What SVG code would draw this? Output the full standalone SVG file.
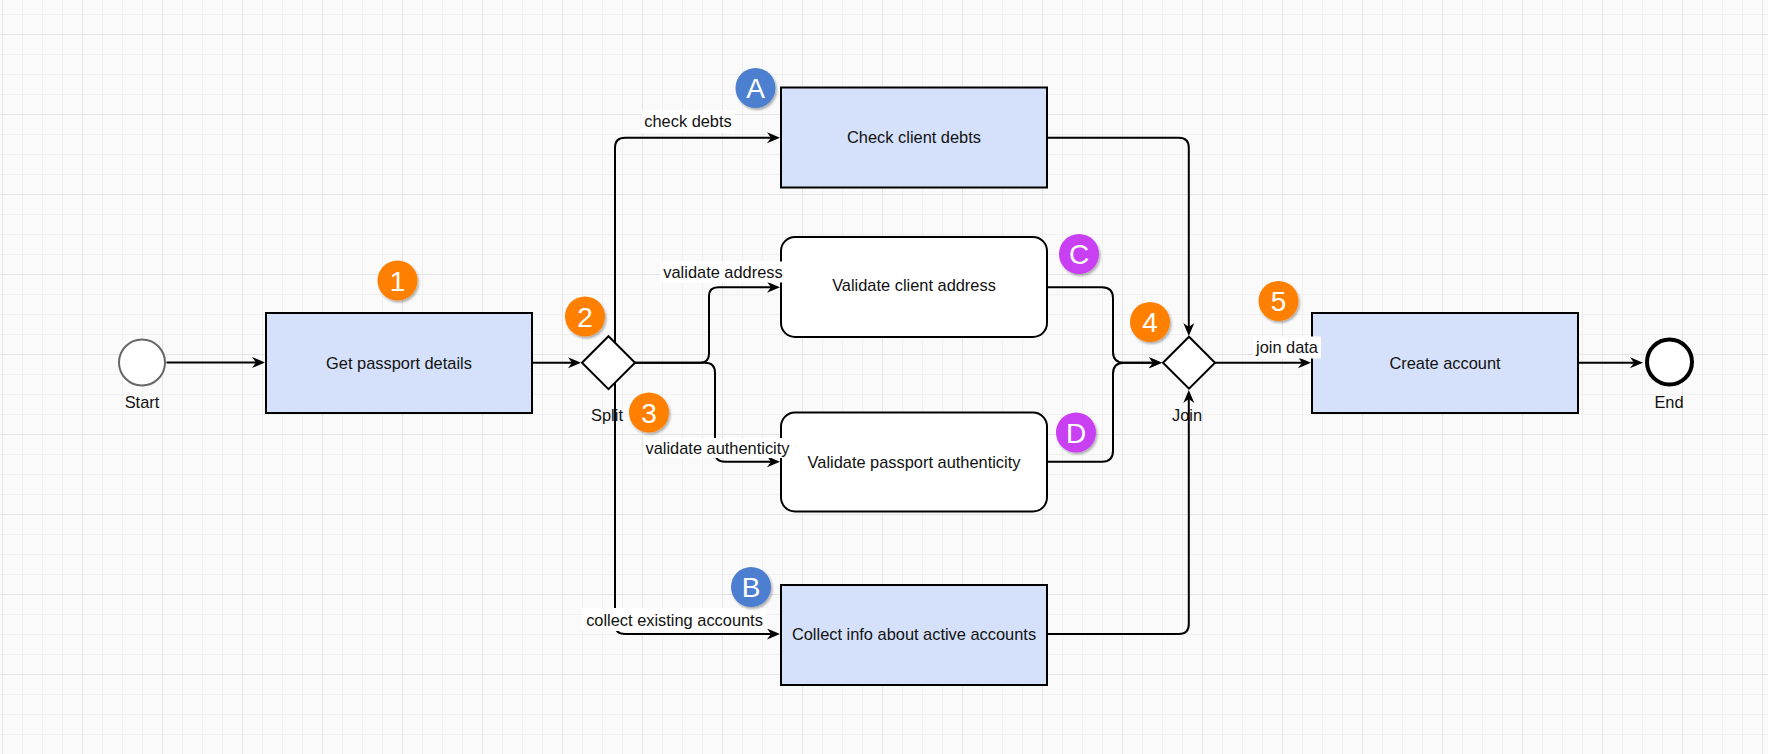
<svg xmlns="http://www.w3.org/2000/svg" width="1768" height="754" viewBox="0 0 1768 754">
<defs>
<pattern id="grid" patternUnits="userSpaceOnUse" x="2" y="34" width="80" height="80">
<rect width="80" height="80" fill="#fafafa"/>
<path d="M20.5,0V80M40.5,0V80M60.5,0V80M0,20.5H80M0,40.5H80M0,60.5H80" stroke="#f0f0f0" stroke-width="1" fill="none"/>
<path d="M0.5,0V80M0,0.5H80" stroke="#e4e4e4" stroke-width="1" fill="none"/>
</pattern>
<marker id="arr" markerUnits="userSpaceOnUse" markerWidth="14" markerHeight="12" refX="8" refY="5.5" orient="auto">
<path d="M0,0 L13,5.5 L0,11 L4,5.5 Z" fill="#000"/>
</marker>
<filter id="sh" x="-40%" y="-40%" width="180%" height="180%">
<feDropShadow dx="1.5" dy="2" stdDeviation="1.3" flood-color="#000" flood-opacity="0.3"/>
</filter>
<style>
.task{fill:#d5e1fb;stroke:#000;stroke-width:2}
.wtask{fill:#fff;stroke:#000;stroke-width:2}
.gw{fill:#fff;stroke:#000;stroke-width:2}
.lbl{font-family:"Liberation Sans",Arial,Helvetica,sans-serif;font-size:16.4px;fill:#111;text-anchor:middle}
.edge{fill:none;stroke:#000;stroke-width:2;marker-end:url(#arr)}
.elbg{fill:#fff}
.badge text{font-family:"Liberation Sans",Arial,Helvetica,sans-serif;font-size:28px;fill:#fff;text-anchor:middle}
.org{fill:#ff8000}
.blu{fill:#4e7fd0}
.pur{fill:#c83ff2}
</style>
</defs>
<rect width="1768" height="754" fill="url(#grid)"/>

<g id="connectors">
<path class="edge" d="M166.5,362.5 H260"/>
<path class="edge" d="M532,362.7 H576"/>
<path class="edge" d="M615,350 V147.7 Q615,137.7 625,137.7 H775"/>
<path class="edge" d="M615,375 V624 Q615,634 625,634 H775"/>
<path class="edge" d="M635,362.7 H700 Q709,362.7 709,353.7 V296.3 Q709,287.3 718,287.3 H775"/>
<path class="edge" d="M635,362.7 H705 Q715,362.7 715,372.7 V451.7 Q715,461.7 725,461.7 H775"/>
<path class="edge" d="M1047,137.7 H1178.8 Q1188.8,137.7 1188.8,147.7 V331"/>
<path class="edge" d="M1047,634 H1178.8 Q1188.8,634 1188.8,624 V395"/>
<path class="edge" d="M1047,287.3 H1102 Q1113,287.3 1113,298.3 V351.7 Q1113,362.7 1124,362.7 H1157"/>
<path class="edge" d="M1047,461.7 H1102 Q1113,461.7 1113,450.7 V373.7 Q1113,362.7 1124,362.7 H1157"/>
<path class="edge" d="M1215,362.7 H1306"/>
<path class="edge" d="M1578,362.7 H1638"/>
</g>

<g id="start">
<circle cx="142" cy="362.5" r="23" fill="#fff" stroke="#666" stroke-width="2"/>
<text class="lbl" x="142" y="407.5">Start</text>
</g>
<g id="get-passport">
<rect class="task" x="266" y="313" width="266" height="100"/>
<text class="lbl" x="399" y="368.5">Get passport details</text>
</g>
<g id="split">
<polygon class="gw" points="582,362.7 608.5,336.2 635,362.7 608.5,389.2"/>
<text class="lbl" x="607" y="421">Split</text>
</g>
<g id="check-debts">
<rect class="task" x="781" y="87.5" width="266" height="100"/>
<text class="lbl" x="914" y="143">Check client debts</text>
</g>
<g id="validate-address">
<rect class="wtask" x="781" y="237" width="266" height="100" rx="14"/>
<text class="lbl" x="914" y="291">Validate client address</text>
</g>
<g id="validate-auth">
<rect class="wtask" x="781" y="412.5" width="266" height="99" rx="14"/>
<text class="lbl" x="914" y="467.5">Validate passport authenticity</text>
</g>
<g id="collect-info">
<rect class="task" x="781" y="585" width="266" height="100"/>
<text class="lbl" x="914" y="639.5">Collect info about active accounts</text>
</g>
<g id="join">
<polygon class="gw" points="1163,362.7 1189,336.7 1215,362.7 1189,388.7"/>
<text class="lbl" x="1187" y="421">Join</text>
</g>
<g id="create-account">
<rect class="task" x="1312" y="313" width="266" height="100"/>
<text class="lbl" x="1445" y="368.5">Create account</text>
</g>
<g id="end">
<circle cx="1669.5" cy="362" r="22.5" fill="#fff" stroke="#000" stroke-width="4"/>
<text class="lbl" x="1669" y="407.5">End</text>
</g>

<g id="edge-labels">
<rect class="elbg" x="641" y="110" width="94" height="23"/>
<text class="lbl" x="688" y="127.2">check debts</text>
<rect class="elbg" x="660" y="261.5" width="125" height="21"/>
<text class="lbl" x="723" y="277.7">validate address</text>
<rect class="elbg" x="643" y="438" width="149" height="20"/>
<text class="lbl" x="717.5" y="453.5">validate authenticity</text>
<rect class="elbg" x="582" y="608" width="185" height="23"/>
<text class="lbl" x="674.5" y="625.6">collect existing accounts</text>
<rect class="elbg" x="1253" y="336.5" width="68" height="22"/>
<text class="lbl" x="1287" y="353.2">join data</text>
</g>

<g id="badge-1" class="badge"><circle class="org" cx="397.5" cy="280.5" r="20" filter="url(#sh)"/><text x="397.5" y="290.5">1</text></g>
<g id="badge-2" class="badge"><circle class="org" cx="585" cy="316.5" r="20" filter="url(#sh)"/><text x="585" y="326.5">2</text></g>
<g id="badge-3" class="badge"><circle class="org" cx="649" cy="412.5" r="20" filter="url(#sh)"/><text x="649" y="422.5">3</text></g>
<g id="badge-4" class="badge"><circle class="org" cx="1150" cy="322" r="20" filter="url(#sh)"/><text x="1150" y="332">4</text></g>
<g id="badge-5" class="badge"><circle class="org" cx="1278.5" cy="301" r="20" filter="url(#sh)"/><text x="1278.5" y="311">5</text></g>
<g id="badge-A" class="badge"><circle class="blu" cx="755.5" cy="88" r="20" filter="url(#sh)"/><text x="755.5" y="98">A</text></g>
<g id="badge-B" class="badge"><circle class="blu" cx="751" cy="587" r="20" filter="url(#sh)"/><text x="751" y="597">B</text></g>
<g id="badge-C" class="badge"><circle class="pur" cx="1079" cy="254" r="20" filter="url(#sh)"/><text x="1079" y="264">C</text></g>
<g id="badge-D" class="badge"><circle class="pur" cx="1076" cy="432.5" r="20" filter="url(#sh)"/><text x="1076" y="442.5">D</text></g>
</svg>
